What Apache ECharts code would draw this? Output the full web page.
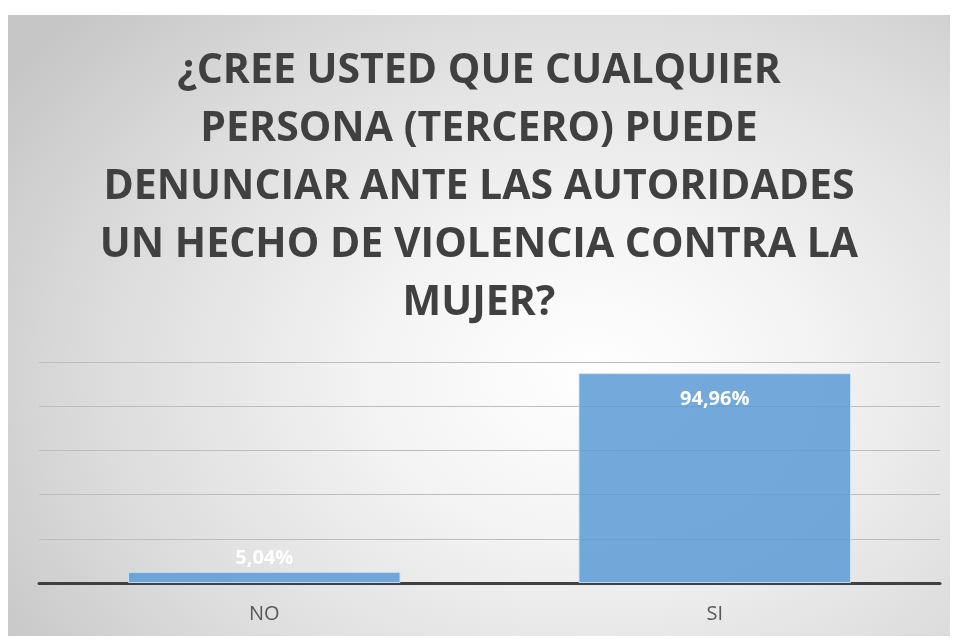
<!DOCTYPE html>
<html>
<head>
<meta charset="utf-8">
<script src="https://cdn.jsdelivr.net/npm/echarts@6/dist/echarts.min.js"></script>
<style>
html,body{margin:0;padding:0;background:#fff;}
#chart{position:absolute;left:8px;top:15px;width:942px;height:621px;
  background:radial-gradient(ellipse 75% 85% at 62% 58%, #ffffff 0%, #f4f4f4 30%, #dcdcdc 70%, #c6c6c6 100%);}
</style>
</head>
<body>
<div id="chart"></div>
<script>
// datos de la encuesta
var categorias = ['NO', 'SI'];
var porcentajes = [5.04, 94.96];
var etiquetas = ['5,04%', '94,96%'];
var titulo = '¿CREE USTED QUE CUALQUIER\nPERSONA (TERCERO) PUEDE\nDENUNCIAR ANTE LAS AUTORIDADES\nUN HECHO DE VIOLENCIA CONTRA LA\nMUJER?';

var myChart = echarts.init(document.getElementById('chart'));

var barData = [];
for (var i = 0; i < porcentajes.length; i++) {
    barData.push({
        value: porcentajes[i],
        label: {
            position: i === 0 ? 'top' : 'insideTop',
            distance: i === 0 ? 4 : 16
        }
    });
}

var option = {
    backgroundColor: 'transparent',
    animation: false,
    title: {
        text: titulo,
        left: 'center',
        top: 22,
        textStyle: {
            color: '#404040',
            fontFamily: 'Open Sans',
            fontSize: 41,
            fontWeight: 'bold',
            lineHeight: 58
        }
    },
    grid: {
        left: 31,
        right: 10,
        top: 347,
        bottom: 53
    },
    xAxis: {
        type: 'category',
        data: categorias,
        axisTick: {show: false},
        axisLine: {
            show: true,
            lineStyle: {color: '#404040', width: 3}
        },
        axisLabel: {
            color: '#595959',
            fontFamily: 'Open Sans',
            fontSize: 20,
            margin: 21
        }
    },
    yAxis: {
        type: 'value',
        min: 0,
        max: 100,
        interval: 20,
        axisLabel: {show: false},
        axisLine: {show: false},
        axisTick: {show: false},
        splitLine: {
            lineStyle: {color: '#bdbdbd', width: 1}
        }
    },
    series: [
        {
            type: 'bar',
            barWidth: '60.5%',
            data: barData,
            itemStyle: {
                color: 'rgba(91,155,213,0.85)',
                borderColor: 'rgba(210,228,245,0.9)',
                borderWidth: 1
            },
            label: {
                show: true,
                color: '#fff',
                fontFamily: 'Open Sans',
                fontWeight: 'bold',
                fontSize: 20,
                formatter: function (p) {
                    return etiquetas[p.dataIndex];
                }
            }
        }
    ]
};
myChart.setOption(option);

window.addEventListener('resize', function () {
    myChart.resize();
});
</script>
</body>
</html>
